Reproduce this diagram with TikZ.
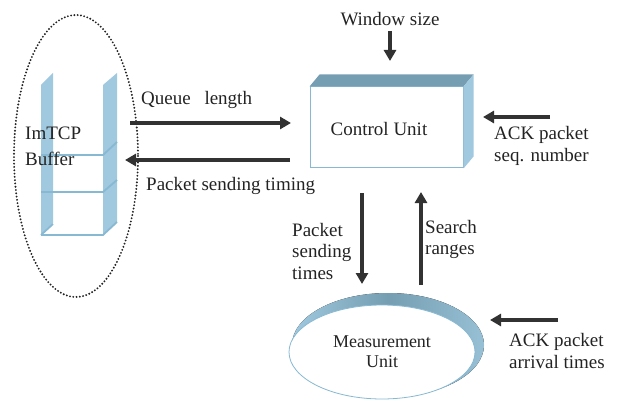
\documentclass[tikz,border=0pt]{standalone}
\usepackage{fontspec}
\setmainfont{Liberation Serif}
\usetikzlibrary{arrows.meta,shapes.geometric,calc}
\definecolor{plate}{RGB}{160,200,222}
\definecolor{plateedge}{RGB}{135,185,210}
\definecolor{topface}{RGB}{118,158,178}
\definecolor{arrowgray}{RGB}{50,50,50}
\definecolor{txt}{RGB}{35,35,35}

\begin{document}
\begin{tikzpicture}[x=1pt,y=-1pt,
  lbl/.style={font=\fontsize{19}{22}\selectfont, text=txt, inner sep=0pt, align=left},
  flow/.style={draw=arrowgray, line width=3.5pt, -{Triangle[length=11pt,width=12pt]}},
  shelf/.style={draw=plateedge, line width=1.8pt},
]
\useasboundingbox (0,0) rectangle (617,403);

% ---------- ImTCP buffer ----------
\draw[txt, line width=2.1pt, line cap=round, dash pattern=on 0pt off 3.3pt]
  (76,156) ellipse [x radius=62, y radius=141];
\fill[plate] (41,85) -- (53,73) -- (53,223) -- (41,235) -- cycle;
\fill[plate] (103,85) -- (117,73) -- (117,222) -- (103,235) -- cycle;
\draw[shelf] (41,235) -- (103,235) -- (117,222);
\draw[shelf] (41,235) -- (53,224);
\draw[shelf] (41,155) -- (103,155) -- (117,142);
\draw[shelf] (41,192) -- (103,192) -- (117,180);
\node[lbl, font=\fontsize{19}{26}\selectfont, anchor=west] (buf) at (25,146) {ImTCP\\Buffer};

% ---------- Control unit ----------
\node[draw=plateedge, fill=white, line width=1pt, minimum width=153, minimum height=81] (cu) at (386.5,127.5) {};
\node[lbl, anchor=center] (cutxt) at (379,129) {Control Unit};
\fill[topface] (cu.north west) -- ++(10,-12) -- ($(cu.north east)+(10,-12)$) -- (cu.north east) -- cycle;
\fill[plate] (cu.north east) -- ++(10,-12) -- ($(cu.south east)+(10,-12)$) -- (cu.south east) -- cycle;

% ---------- Measurement unit ----------
\fill[left color=plate, right color=plate!80!topface, middle color=topface]
  (388,345) ellipse [x radius=96, y radius=52];
\node[ellipse, draw=plateedge, fill=white, line width=0.8pt, minimum width=186, minimum height=94,
      inner sep=0pt, font=\fontsize{18}{20}\selectfont, text=txt, align=center] (mu) at (382,352)
  {Measurement\\Unit};

% ---------- Labels ----------
\node[lbl, anchor=center] (win) at (390,19) {Window size};
\node[lbl, anchor=west] (qlab) at (141,100) {Queue\hspace{9pt} length};
\node[lbl, anchor=west] (plab) at (146,186) {Packet sending timing};
\node[lbl, anchor=north west] (acks) at (494,126) {ACK packet\\seq. number};
\node[lbl, font=\fontsize{19}{21.5}\selectfont, anchor=north west] (pst) at (292,223) {Packet\\sending\\times};
\node[lbl, font=\fontsize{19}{21.5}\selectfont, anchor=north west] (srch) at (425,220) {Search\\ranges};
\node[lbl, anchor=north west] (acka) at (509,333) {ACK packet\\arrival times};

% ---------- Arrow end points ----------
\coordinate (ws0) at (390,31);   \coordinate (ws1) at (390,61);
\coordinate (ql0) at (130,123);  \coordinate (ql1) at (291,123);
\coordinate (pt0) at (290,160);  \coordinate (pt1) at (125,160);
\coordinate (as0) at (550,117);  \coordinate (as1) at (483,117);
\coordinate (ps0) at (362,193);  \coordinate (ps1) at (362,284);
\coordinate (sr0) at (421,285);  \coordinate (sr1) at (421,192);
\coordinate (aa0) at (558,320);  \coordinate (aa1) at (490,320);

% ---------- Arrows ----------
\draw[flow] (ws0) -- (ws1);
\draw[flow] (ql0) -- (ql1);
\draw[flow] (pt0) -- (pt1);
\draw[flow] (as0) -- (as1);
\draw[flow] (ps0) -- (ps1);
\draw[flow] (sr0) -- (sr1);
\draw[flow] (aa0) -- (aa1);
\end{tikzpicture}
\end{document}
